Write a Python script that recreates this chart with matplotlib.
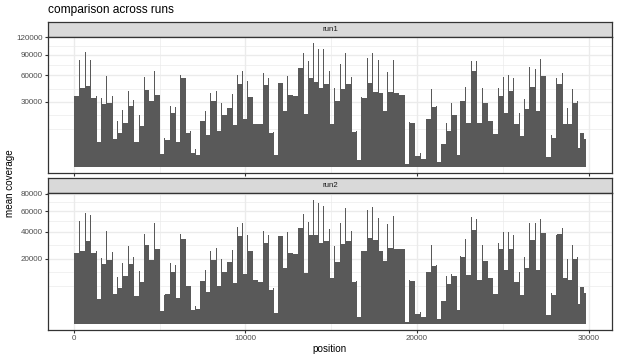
import numpy as np
import matplotlib.pyplot as plt
from matplotlib.ticker import FixedLocator, NullFormatter

plt.rcParams['font.family'] = ['Liberation Sans', 'DejaVu Sans']

# ---- data ----
genome_end = 29855
# centres of the amplicon overlap regions (bp)
overlap_pos = [350, 680, 990, 1300, 1595, 1905, 2235, 2545, 2855, 3170,
               3480, 3830, 4120, 4375, 4685, 5015, 5285, 5620, 5910, 6220,
               6530, 6820, 7075, 7350, 7660, 7970, 8300, 8610, 8920, 9230,
               9540, 9815, 10130, 10440, 10730, 11040, 11330, 11640, 11895, 12185,
               12460, 12770, 13060, 13370, 13665, 13955, 14265, 14560, 14890, 15200,
               15530, 15840, 16170, 16465, 16775, 17105, 17415, 17745, 18020, 18290,
               18620, 18950, 19260, 19575, 19880, 20195, 20525, 20855, 21150, 21420,
               21710, 22020, 22330, 22550, 22840, 23190, 23480, 23830, 24140, 24430,
               24760, 25050, 25330, 25640, 25970, 26260, 26570, 26900, 27190, 27500,
               27830, 28150, 28460, 28750, 29060, 29370, 29530, 29680]

run1_tile = [35700, 44600, 46600, 34000, 4300, 27800, 29300, 5300, 8200, 13400,
             26300, 4300, 11800, 42100, 30800, 36400, 1070, 5000, 20300, 4300,
             56700, 7900, 1250, 1000, 14900, 7300, 30500, 9200, 18800, 24600,
             12200, 48500, 16000, 34700, 13200, 12800, 47400, 7900, 900, 49800,
             21900, 36400, 35700, 69700, 19600, 56300, 51300, 44600, 48500, 12800,
             30800, 43500, 48500, 8600, 300, 34000, 50500, 40000, 39200, 22100,
             39900, 38500, 36400, 30, 13400, 790, 370, 16000, 25700, 145,
             3500, 9100, 18800, 900, 30500, 13400, 65500, 13400, 28700, 14700,
             7400, 35700, 20300, 40900, 12800, 6700, 24000, 45800, 22100, 58900,
             690, 6000, 48500, 13200, 13000, 29300, 2500, 7900, 5300]
run1_overlap = [81500, 94200, 81500, 36000, 34000, 58900, 35700, 14700, 22900, 40600,
                31800, 18800, 58000, 72600, 66000, 37500, 6000, 26300, 25700, 59800,
                61000, 9000, 2300, 16000, 22100, 38500, 40900, 29300, 43900, 37500,
                60600, 66000, 52200, 51500, 29900, 62800, 56300, 8800, 53800, 74500,
                58900, 73600, 109000, 92100, 79500, 110000, 98700, 98700, 66000, 44600,
                75100, 93100, 58000, 9000, 35000, 85100, 93100, 81500, 63200, 64200,
                81500, 77400, 37000, 14000, 14700, 1250, 16500, 42800, 26000, 3600,
                13400, 29300, 19500, 31000, 45800, 79500, 79500, 43900, 44600, 22900,
                44600, 58000, 60000, 56000, 20300, 32400, 71600, 68700, 82600, 59500,
                7000, 56000, 62800, 25000, 43500, 31000, 7900, 7900]

run2_tile = [23800, 25200, 32000, 23500, 2900, 16800, 19300, 4100, 5900, 10700,
             16800, 3700, 8100, 29500, 19300, 26600, 770, 4100, 12500, 3200,
             33900, 6600, 900, 1100, 8700, 4700, 19300, 6700, 12900, 17900,
             7700, 36100, 11600, 25200, 9200, 8100, 30700, 5300, 500, 36100,
             14900, 23600, 22900, 43300, 12100, 37500, 36900, 30700, 32000, 10100,
             18300, 30000, 32600, 8100, 230, 24700, 34700, 33100, 24900, 18500,
             27300, 26600, 26100, 20, 8500, 480, 250, 12500, 16000, 100,
             2400, 7600, 11000, 840, 21200, 11400, 41500, 9200, 18500, 9900,
             4300, 26100, 13500, 26500, 8300, 3800, 14800, 33100, 13900, 38600,
             390, 3900, 37800, 9900, 9200, 20000, 1900, 6400, 4500]
run2_overlap = [49600, 58400, 55600, 25000, 20300, 40300, 24200, 10500, 17300, 28300,
                21200, 13200, 38000, 50300, 47700, 27000, 4000, 17300, 16400, 38000,
                39800, 6700, 1500, 9500, 13500, 24700, 27000, 20000, 30700, 25900,
                43900, 48000, 36900, 35300, 18300, 40300, 37500, 6000, 38500, 52900,
                39800, 47000, 67900, 57000, 48900, 72900, 69000, 65300, 42800, 28300,
                48000, 63400, 40300, 8500, 25000, 60600, 64100, 53300, 42700, 46700,
                54900, 52300, 26500, 9000, 9200, 700, 13000, 29000, 16200, 2500,
                10700, 11900, 11500, 21500, 34200, 54300, 51600, 29000, 29000, 13900,
                30500, 39800, 40000, 37000, 12500, 21000, 48300, 47700, 52300, 39000,
                4500, 37000, 43700, 20000, 29000, 21000, 6400, 6400]

run1_breaks = [30000, 60000, 90000, 120000]
run2_breaks = [20000, 40000, 60000, 80000]
x_breaks = [0, 10000, 20000, 30000]

# ---- figure in pixel terms ----
W, H, DPI = 617, 359, 100
fig = plt.figure(figsize=(W / DPI, H / DPI), dpi=DPI)

BAR = '#595959'
GRID = '#EBEBEB'
DARK = '#333333'
TICKTXT = '#4D4D4D'


def px_box(left, top, right, bottom):
    return [left / W, 1 - bottom / H, (right - left) / W, (bottom - top) / H]


def sq(v):
    v = np.asarray(v, float)
    return np.sign(v) * np.sqrt(np.abs(v))


def unsq(t):
    t = np.asarray(t, float)
    return np.sign(t) * t ** 2


def minor_breaks(b, lo, hi):
    # ggplot style: midpoints between majors, one extra major each side
    b = np.asarray(b, float)
    if b[0] > lo:
        b = np.r_[b[0] - (b[1] - b[0]), b]
    if b[-1] < hi:
        b = np.r_[b, b[-1] + (b[-1] - b[-2])]
    m = np.r_[b, (b[:-1] + b[1:]) / 2]
    return np.sort(m[(m >= lo) & (m <= hi)])


def segments(tiles, overlaps, half=25):
    bounds = np.asarray(overlap_pos, float)
    starts = np.r_[0, bounds + half]
    ends = np.r_[bounds - half, genome_end]
    left = np.r_[starts, bounds - half]
    width = np.r_[ends - starts, np.full(len(bounds), 2 * half)]
    height = np.r_[tiles, overlaps]
    return left, width, height


L, R = 48.3, 611.7
xpad = 0.05 * genome_end
xlo, xhi = -xpad, genome_end + xpad


def panel(top, bottom, label, tiles, overlaps, breaks, show_x):
    strip = fig.add_axes(px_box(L, top, R, top + 15))
    strip.set_facecolor('#D9D9D9')
    strip.set_xticks([])
    strip.set_yticks([])
    for s in strip.spines.values():
        s.set_color(DARK)
        s.set_linewidth(0.9)
    strip.text(0.5, 0.5, label, ha='center', va='center', fontsize=5.7,
               color='#1A1A1A', transform=strip.transAxes)

    ax = fig.add_axes(px_box(L, top + 15, R, bottom))
    ax.set_yscale('function', functions=(sq, unsq))
    left, width, height = segments(tiles, overlaps)
    ax.bar(left, height, width=width, align='edge', color=BAR, linewidth=0)

    tmax = np.sqrt(max(max(tiles), max(overlaps)))
    tlo, thi = -0.05 * tmax, 1.05 * tmax
    ax.set_ylim(unsq(tlo), unsq(thi))
    ax.set_xlim(xlo, xhi)

    ax.yaxis.set_major_locator(FixedLocator(breaks))
    ax.yaxis.set_minor_locator(FixedLocator(unsq(minor_breaks(sq(breaks), tlo, thi))))
    ax.set_yticklabels([str(b) for b in breaks])
    ax.xaxis.set_major_locator(FixedLocator(x_breaks))
    ax.xaxis.set_minor_locator(FixedLocator(minor_breaks(x_breaks, xlo, xhi)))
    ax.xaxis.set_minor_formatter(NullFormatter())
    ax.yaxis.set_minor_formatter(NullFormatter())
    if show_x:
        ax.set_xticklabels([str(b) for b in x_breaks])
    else:
        ax.set_xticklabels([])

    ax.set_axisbelow(True)
    ax.grid(which='major', color=GRID, linewidth=0.95)
    ax.grid(which='minor', color=GRID, linewidth=0.5)
    for s in ax.spines.values():
        s.set_color(DARK)
        s.set_linewidth(0.9)
    ax.tick_params(which='major', direction='out', length=2.4, width=0.8,
                   color=DARK, labelsize=5.75, labelcolor=TICKTXT, pad=1.5)
    ax.tick_params(which='minor', length=0)
    if not show_x:
        ax.tick_params(axis='x', which='major', length=2.4)
    return ax


panel(21.7, 172.7, 'run1', run1_tile, run1_overlap, run1_breaks, False)
panel(178.3, 330.0, 'run2', run2_tile, run2_overlap, run2_breaks, True)

fig.text(L / W, 1 - 10 / H, 'comparison across runs', ha='left', va='center',
         fontsize=8.6, color='black')
fig.text(329.7 / W, 1 - 348.5 / H, 'position', ha='center', va='center',
         fontsize=7.1, color='black')
fig.text(10 / W, 1 - 183 / H, 'mean coverage', ha='center', va='center',
         rotation=90, fontsize=7.1, color='black')

fig.savefig('out.png', dpi=DPI)
